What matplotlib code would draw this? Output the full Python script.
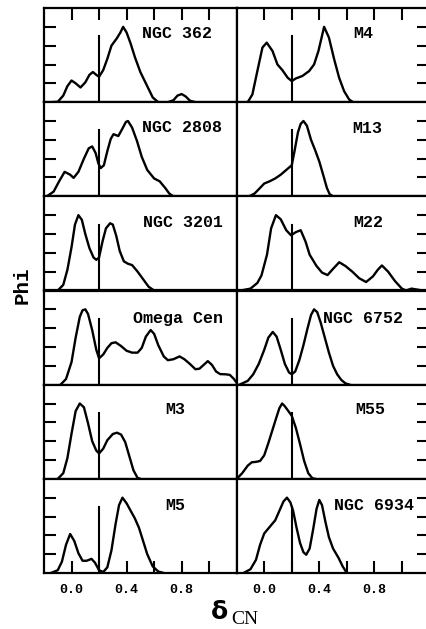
import matplotlib
matplotlib.use("Agg")
import matplotlib.pyplot as plt

# left column
ngc362_x = [-0.15, -0.10, -0.06, -0.03, 0.0, 0.03, 0.065, 0.10, 0.13, 0.155, 0.18, 0.20, 0.23, 0.26, 0.29, 0.33,
            0.355, 0.375, 0.40, 0.43, 0.46, 0.50, 0.55, 0.59, 0.63, 0.70, 0.74, 0.77, 0.80, 0.83, 0.86, 0.90]
ngc362_y = [0, 0.02, 0.35, 0.85, 1.15, 1.0, 0.78, 1.05, 1.45, 1.6, 1.45, 1.35, 1.7, 2.3, 3.0, 3.4,
            3.7, 4.0, 3.7, 3.1, 2.4, 1.6, 0.85, 0.25, 0.0, 0.0, 0.1, 0.35, 0.43, 0.3, 0.08, 0]

ngc2808_x = [-0.18, -0.13, -0.09, -0.05, -0.01, 0.015, 0.05, 0.09, 0.125, 0.15, 0.175, 0.195, 0.212, 0.235, 0.26,
             0.285, 0.305, 0.34, 0.37, 0.395, 0.41, 0.44, 0.475, 0.51, 0.55, 0.6, 0.64, 0.68, 0.71, 0.74]
ngc2808_y = [0, 0.25, 0.8, 1.3, 1.15, 0.98, 1.3, 2.0, 2.55, 2.65, 2.3, 1.75, 1.5, 1.65, 2.4,
             3.05, 3.3, 3.2, 3.6, 3.95, 4.0, 3.65, 2.95, 2.1, 1.4, 0.95, 0.8, 0.45, 0.15, 0]

ngc3201_x = [-0.1, -0.06, -0.03, 0.0, 0.025, 0.05, 0.075, 0.1, 0.13, 0.16, 0.18, 0.2, 0.225, 0.25, 0.28, 0.3,
             0.325, 0.35, 0.38, 0.41, 0.44, 0.48, 0.52, 0.56, 0.6]
ngc3201_y = [0, 0.3, 1.1, 2.3, 3.5, 4.0, 3.75, 3.0, 2.25, 1.75, 1.63, 1.75, 2.6, 3.3, 3.57, 3.5,
             2.9, 2.1, 1.55, 1.42, 1.35, 1.0, 0.6, 0.2, 0]

omega_x = [-0.08, -0.04, 0.0, 0.03, 0.06, 0.08, 0.1, 0.12, 0.15, 0.18, 0.2, 0.23, 0.26, 0.29, 0.32, 0.36, 0.4,
           0.44, 0.48, 0.51, 0.54, 0.575, 0.6, 0.63, 0.67, 0.7, 0.74, 0.785, 0.82, 0.86, 0.9, 0.93, 0.96,
           0.99, 1.02, 1.05, 1.08, 1.12, 1.15, 1.18, 1.2]
omega_y = [0, 0.3, 1.2, 2.5, 3.6, 3.95, 4.0, 3.75, 2.9, 1.85, 1.4, 1.6, 1.95, 2.2, 2.25, 2.05, 1.8,
           1.7, 1.7, 1.95, 2.55, 2.9, 2.7, 2.1, 1.5, 1.3, 1.35, 1.5, 1.35, 1.1, 0.82, 0.85, 1.05,
           1.25, 1.05, 0.7, 0.56, 0.55, 0.52, 0.3, 0.1]

m3_x = [-0.1, -0.06, -0.03, 0.0, 0.03, 0.06, 0.09, 0.12, 0.15, 0.18, 0.2, 0.23, 0.26, 0.3, 0.33, 0.36,
        0.39, 0.42, 0.45, 0.48, 0.5]
m3_y = [0, 0.3, 1.1, 2.4, 3.6, 4.0, 3.8, 2.95, 2.0, 1.5, 1.35, 1.6, 2.05, 2.38, 2.45, 2.35,
        1.95, 1.2, 0.45, 0.05, 0]

m5_x = [-0.15, -0.1, -0.07, -0.04, -0.01, 0.02, 0.05, 0.08, 0.11, 0.145, 0.17, 0.2, 0.23, 0.26, 0.29, 0.32,
        0.345, 0.37, 0.4, 0.43, 0.46, 0.49, 0.52, 0.55, 0.59, 0.63, 0.67]
m5_y = [0, 0.15, 0.6, 1.5, 2.07, 1.7, 1.05, 0.65, 0.65, 0.75, 0.55, 0.15, 0.05, 0.3, 1.2, 2.6,
        3.6, 4.0, 3.7, 3.3, 2.9, 2.4, 1.7, 1.0, 0.35, 0.08, 0]

# right column
m4_x = [-0.12, -0.086, -0.05, -0.013, 0.018, 0.06, 0.096, 0.132, 0.17, 0.2, 0.23, 0.277, 0.326, 0.362,
        0.394, 0.435, 0.47, 0.508, 0.544, 0.58, 0.617, 0.646]
m4_y = [0, 0.41, 1.65, 2.9, 3.16, 2.72, 2.0, 1.7, 1.3, 1.12, 1.26, 1.39, 1.65, 2.0,
        2.72, 4.0, 3.43, 2.28, 1.3, 0.59, 0.14, 0]

m13_x = [-0.11, -0.07, -0.03, 0.0, 0.04, 0.08, 0.12, 0.16, 0.2, 0.22, 0.245, 0.265, 0.285, 0.31, 0.34,
         0.37, 0.4, 0.43, 0.455, 0.475, 0.5]
m13_y = [0, 0.15, 0.45, 0.68, 0.8, 0.95, 1.15, 1.4, 1.65, 2.4, 3.4, 3.85, 4.0, 3.75, 3.0,
         2.45, 1.85, 1.1, 0.45, 0.12, 0]

m22_x = [-0.17, -0.1, -0.05, -0.02, 0.02, 0.05, 0.085, 0.12, 0.16, 0.195, 0.23, 0.265, 0.3, 0.33, 0.38,
         0.42, 0.46, 0.5, 0.545, 0.59, 0.64, 0.69, 0.74, 0.79, 0.825, 0.855, 0.9, 0.95, 1.0, 1.03, 1.07,
         1.11, 1.15]
m22_y = [0, 0.1, 0.4, 0.8, 1.9, 3.3, 4.0, 3.78, 3.2, 2.93, 3.1, 3.2, 2.6, 1.9, 1.3,
         0.95, 0.82, 1.15, 1.5, 1.3, 1.0, 0.65, 0.45, 0.75, 1.1, 1.33, 1.0, 0.5, 0.1, 0.0, 0.1,
         0.05, 0]

ngc6752_x = [-0.18, -0.12, -0.08, -0.04, 0.0, 0.03, 0.062, 0.09, 0.12, 0.15, 0.18, 0.2, 0.225, 0.255,
             0.285, 0.315, 0.34, 0.362, 0.385, 0.41, 0.44, 0.47, 0.5, 0.53, 0.56, 0.59, 0.62]
ngc6752_y = [0, 0.2, 0.55, 1.1, 1.85, 2.5, 2.8, 2.55, 1.85, 1.1, 0.65, 0.55, 0.7, 1.3,
             2.1, 3.0, 3.7, 4.0, 3.85, 3.3, 2.5, 1.7, 1.0, 0.55, 0.25, 0.07, 0]

m55_x = [-0.2, -0.16, -0.12, -0.09, -0.06, -0.03, 0.0, 0.03, 0.06, 0.09, 0.11, 0.13, 0.15, 0.175, 0.2,
         0.23, 0.26, 0.29, 0.32, 0.35, 0.37]
m55_y = [0, 0.3, 0.7, 0.88, 0.9, 0.95, 1.25, 1.9, 2.6, 3.3, 3.75, 4.0, 3.85, 3.6, 3.35,
         2.7, 1.85, 0.95, 0.3, 0.03, 0]

ngc6934_x = [-0.15, -0.1, -0.06, -0.03, 0.0, 0.04, 0.08, 0.11, 0.14, 0.165, 0.19, 0.21, 0.235, 0.26,
             0.285, 0.305, 0.33, 0.355, 0.38, 0.4, 0.42, 0.445, 0.47, 0.5, 0.54, 0.57, 0.6]
ngc6934_y = [0, 0.2, 0.7, 1.5, 2.1, 2.45, 2.8, 3.3, 3.8, 4.0, 3.75, 3.3, 2.4, 1.6,
             1.1, 0.97, 1.3, 2.3, 3.4, 3.88, 3.6, 2.7, 1.9, 1.3, 0.8, 0.35, 0]

left_names = ["NGC 362", "NGC 2808", "NGC 3201", "Omega Cen", "M3", "M5"]
right_names = ["M4", "M13", "M22", "NGC 6752", "M55", "NGC 6934"]
left_curves = [(ngc362_x, ngc362_y), (ngc2808_x, ngc2808_y), (ngc3201_x, ngc3201_y),
               (omega_x, omega_y), (m3_x, m3_y), (m5_x, m5_y)]
right_curves = [(m4_x, m4_y), (m13_x, m13_y), (m22_x, m22_y),
                (ngc6752_x, ngc6752_y), (m55_x, m55_y), (ngc6934_x, ngc6934_y)]

cut = 0.2
cut_height = 3.5
xticks = [0.0, 0.2, 0.4, 0.6, 0.8, 1.0]
xticklabels = ["0.0", "", "0.4", "", "0.8", ""]
yticks = [1, 2, 3, 4]

# where the name sits in each panel (data coords, left edge)
left_label_pos = [(0.51, 3.67), (0.51, 3.67), (0.52, 3.6), (0.445, 3.5), (0.68, 3.67), (0.68, 3.6)]
right_label_pos = [(0.645, 3.63), (0.64, 3.6), (0.65, 3.6), (0.427, 3.5), (0.66, 3.66), (0.507, 3.6)]

mono = "Liberation Mono"
W, H = 426, 629
fig = plt.figure(figsize=(W / 100, H / 100), dpi=100)

col_left = [44, 236.7]
col_width = 192.7
top, bottom = 8, 573
row_h = (bottom - top) / 6

for col in range(2):
    names = left_names if col == 0 else right_names
    curves = left_curves if col == 0 else right_curves
    label_pos = left_label_pos if col == 0 else right_label_pos
    for row in range(6):
        y0 = top + (row + 1) * row_h
        ax = fig.add_axes([col_left[col] / W, 1 - y0 / H, col_width / W, row_h / H])
        xs, ys = curves[row]
        ax.plot(xs, ys, color="black", lw=1.7, solid_joinstyle="round")
        ax.plot([cut, cut], [0, cut_height], color="black", lw=1.5)
        lx, ly = label_pos[row]
        ax.text(lx, ly, names[row], fontsize=12, fontweight="bold", family=mono,
                ha="left", va="center")
        ax.set_xlim(-0.2, 1.2)
        ax.set_ylim(0, 5.0)
        for s in ax.spines.values():
            s.set_linewidth(1.6)
        ax.set_xticks(xticks)
        ax.set_xticklabels(xticklabels)
        ax.set_yticks(yticks)
        ax.tick_params(direction="in", length=8.5, width=1.5,
                       left=(col == 0), right=(col == 1), labelleft=False, labelright=False,
                       top=(row == 0), bottom=(row == 5), labeltop=False, labelbottom=(row == 5))
        if row == 5:
            ax.tick_params(axis="x", pad=8)
            for lab in ax.get_xticklabels():
                lab.set_fontfamily(mono)
                lab.set_fontweight("bold")
                lab.set_fontsize(9.5)

fig.text(22 / W, 1 - 285 / H, "Phi", rotation=90, fontsize=15, fontweight="bold", family=mono,
         ha="center", va="center")
fig.text(219 / W, 1 - 612 / H, "δ", fontsize=18, fontweight="bold", family="DejaVu Sans",
         ha="center", va="center")
fig.text(231 / W, 1 - 624 / H, "CN", fontsize=14, family="Liberation Serif",
         ha="left", va="baseline")

fig.savefig("out.png", dpi=100)
